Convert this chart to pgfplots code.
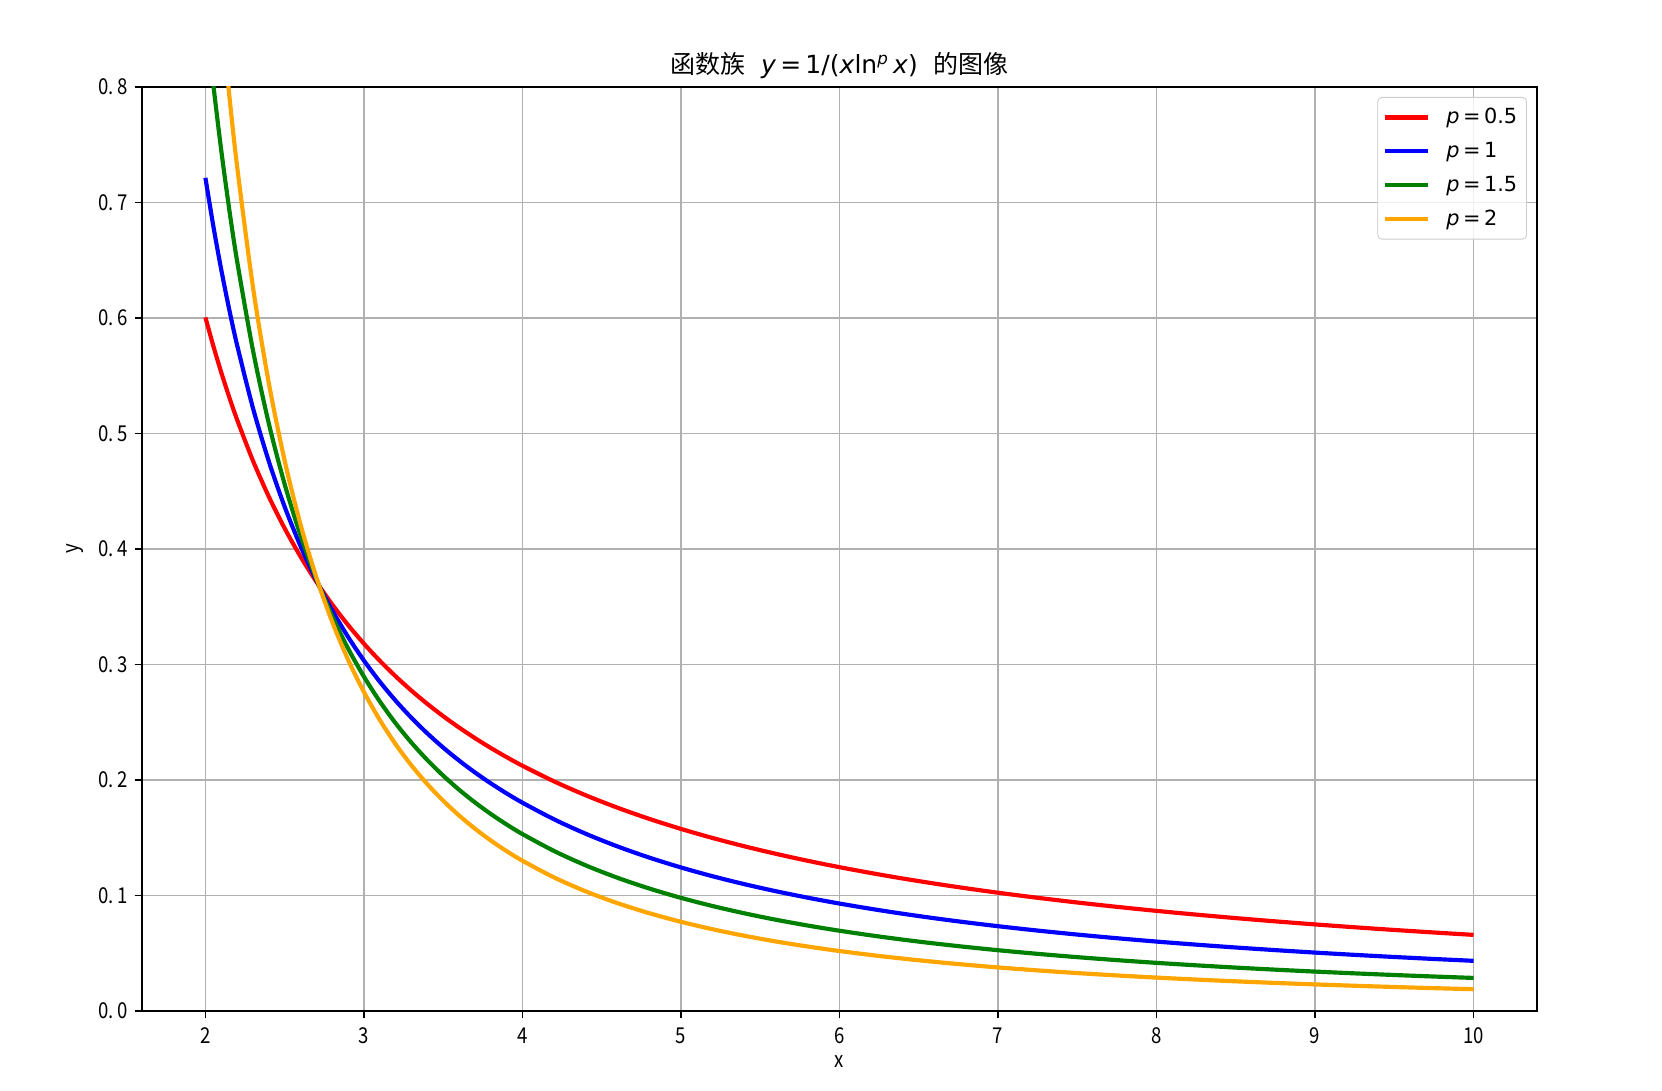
\documentclass[border=0pt]{standalone}
\usepackage{fontspec}
\setmainfont{DejaVu Sans}
\newfontfamily\cjk{Noto Sans CJK SC}
\newfontfamily\tickf[FakeStretch=0.85]{Noto Sans CJK SC}
\usepackage{pgfplots}
\usepackage{pgfplotstable}
\pgfplotsset{compat=1.18}
\definecolor{mplgreen}{HTML}{008000}
\definecolor{mplorange}{HTML}{FFA500}
\definecolor{gridgray}{HTML}{B0B0B0}
\definecolor{legframe}{HTML}{CCCCCC}

% p = 0.5
\pgfplotstableread{
x y
2.0 0.60056
2.05 0.57575
2.1 0.55284
2.15 0.53162
2.2 0.51190
2.3 0.47640
2.4 0.44532
2.5 0.41787
2.6 0.39347
2.7 0.37163
2.8 0.35197
2.9 0.33418
3.0 0.31802
3.1 0.303270
3.2 0.289756
3.3 0.277331
3.4 0.265870
3.5 0.25527
3.6 0.245434
3.7 0.236287
3.8 0.227759
3.9 0.219791
4.0 0.21233
4.2 0.198752
4.4 0.186716
4.6 0.175977
4.8 0.166341
5.0 0.15765
5.2 0.149772
5.4 0.142602
5.6 0.136050
5.8 0.130041
6.0 0.12451
6.25 0.118193
6.5 0.11245
6.75 0.107210
7.0 0.10241
7.25 0.097999
7.5 0.09393
7.75 0.090170
8.0 0.08668
8.25 0.083442
8.5 0.08042
8.75 0.077599
9.0 0.07496
9.25 0.072482
9.5 0.07016
9.75 0.067965
10.0 0.06590
}\pA

% p = 1
\pgfplotstableread{
x y
2.0 0.72135
2.05 0.67955
2.1 0.64182
2.15 0.60762
2.2 0.57650
2.3 0.52201
2.4 0.47594
2.5 0.43654
2.6 0.40252
2.7 0.37289
2.8 0.34687
2.9 0.32387
3.0 0.30341
3.1 0.285116
3.2 0.268667
3.3 0.253811
3.4 0.240336
3.5 0.22807
3.6 0.216856
3.7 0.206576
3.8 0.197122
3.9 0.188402
4.0 0.18034
4.2 0.165910
4.4 0.153396
4.6 0.142453
4.8 0.132813
5.0 0.12427
5.2 0.116645
5.4 0.109811
5.6 0.103654
5.8 0.098082
6.0 0.09302
6.25 0.087309
6.5 0.08219
6.75 0.077583
7.0 0.07341
7.25 0.069627
7.5 0.06617
7.75 0.063013
8.0 0.06011
8.25 0.057441
8.5 0.05497
8.75 0.052689
9.0 0.05057
9.25 0.048596
9.5 0.04676
9.75 0.045038
10.0 0.04343
}\pB

% p = 1.5
\pgfplotstableread{
x y
2.0 0.86643
2.05 0.80206
2.1 0.74512
2.15 0.69449
2.2 0.64925
2.3 0.57198
2.4 0.50866
2.5 0.45604
2.6 0.41178
2.7 0.37415
2.8 0.34184
2.9 0.31387
3.0 0.28947
3.1 0.268048
3.2 0.249113
3.3 0.232286
3.4 0.217254
3.5 0.20377
3.6 0.191606
3.7 0.180601
3.8 0.170606
3.9 0.161495
4.0 0.15317
4.2 0.138495
4.4 0.126023
4.6 0.115315
4.8 0.106043
5.0 0.09796
5.2 0.090845
5.4 0.084560
5.6 0.078972
5.8 0.073977
6.0 0.06949
6.25 0.064495
6.5 0.06007
6.75 0.056144
7.0 0.05263
7.25 0.049470
7.5 0.04662
7.75 0.044035
8.0 0.04168
8.25 0.039542
8.5 0.03758
8.75 0.035776
9.0 0.03412
9.25 0.032581
9.5 0.03116
9.75 0.029845
10.0 0.02862
}\pC

% p = 2
\pgfplotstableread{
x y
2.0 1.04069
2.05 0.94666
2.1 0.86506
2.15 0.79379
2.2 0.73117
2.3 0.62673
2.4 0.54364
2.5 0.47642
2.6 0.42126
2.7 0.37542
2.8 0.33689
2.9 0.30419
3.0 0.27618
3.1 0.252003
3.2 0.230982
3.3 0.212586
3.4 0.196389
3.5 0.18205
3.6 0.169295
3.7 0.157893
3.8 0.147657
3.9 0.138431
4.0 0.13009
4.2 0.115610
4.4 0.103534
4.6 0.093347
4.8 0.084669
5.0 0.07721
5.2 0.070751
5.4 0.065116
5.6 0.060167
5.8 0.055796
6.0 0.05192
6.25 0.047643
6.5 0.04391
6.75 0.040629
7.0 0.03773
7.25 0.035147
7.5 0.03284
7.75 0.030773
8.0 0.02891
8.25 0.027220
8.5 0.02569
8.75 0.024291
9.0 0.02302
9.25 0.021845
9.5 0.02077
9.75 0.019777
10.0 0.01886
}\pD

\begin{document}
\begin{tikzpicture}
\useasboundingbox (-68.16pt,-38.4pt) rectangle (729.6pt,485.28pt);
\begin{axis}[
  at={(0,0)}, anchor=south west,
  scale only axis, width=669.6pt, height=443.52pt,
  xmin=1.6, xmax=10.4, ymin=0, ymax=0.8,
  xtick={2,3,4,5,6,7,8,9,10},
  ytick={0,0.1,0.2,0.3,0.4,0.5,0.6,0.7,0.8},
  yticklabels={0.\kern1.5pt0,0.\kern1.5pt1,0.\kern1.5pt2,0.\kern1.5pt3,0.\kern1.5pt4,0.\kern1.5pt5,0.\kern1.5pt6,0.\kern1.5pt7,0.\kern1.5pt8},
  xtick pos=left, ytick pos=left,
  tick align=outside, major tick length=3.5pt,
  every tick/.style={black, line width=0.8pt},
  axis line style={line width=0.8pt, black},
  grid=major,
  major grid style={gridgray, line width=0.8pt},
  /pgf/number format/assume math mode=true,
  tick label style={font=\tickf\fontsize{10.5}{12}\selectfont},
  xticklabel style={yshift=-1pt},
  xlabel={x}, ylabel={y},
  label style={font=\tickf\fontsize{10.5}{12}\selectfont},
  xlabel style={yshift=1pt},
  title={{\cjk 函数族}\ \ \textit{y}\,=\,1/(\textit{x}ln\textsuperscript{\textit{p}}\,\textit{x})\ \ {\cjk 的图像}},
  title style={font=\fontsize{12}{14}\selectfont, yshift=-5.5pt},
  legend style={at={(1,1)}, anchor=north east, xshift=-4.8pt, yshift=-4.8pt,
    draw=legframe, rounded corners=2pt, fill=white, fill opacity=0.8, text opacity=1,
    font=\fontsize{10}{12}\selectfont, row sep=3.4pt, inner xsep=2.5pt, inner ysep=3.2pt},
  legend cell align=left,
  legend image code/.code={\draw[#1] (0cm,0cm) -- (0.72cm,0cm); \path (0.93cm,0cm);},
  clip=true,
]
\addplot[red, line width=2pt, smooth] table {\pA};
\addlegendentry{\textit{p}\,=\,0.5}
\addplot[blue, line width=2pt, smooth] table {\pB};
\addlegendentry{\textit{p}\,=\,1}
\addplot[mplgreen, line width=2pt, smooth] table {\pC};
\addlegendentry{\textit{p}\,=\,1.5}
\addplot[mplorange, line width=2pt, smooth] table {\pD};
\addlegendentry{\textit{p}\,=\,2}
\end{axis}
\end{tikzpicture}
\end{document}
